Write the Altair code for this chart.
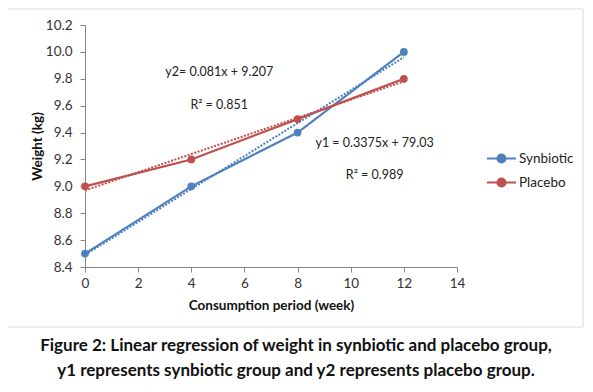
import altair as alt
import pandas as pd

weeks = [0, 4, 8, 12]
synbiotic = [8.5, 9.0, 9.4, 10.0]
placebo = [9.0, 9.2, 9.5, 9.8]
groups = ["Synbiotic", "Placebo"]
colors = ["#4F81BD", "#C0504D"]

ann_text = ["y2= 0.081x + 9.207", "R\u00b2 = 0.851", "y1 = 0.3375x + 79.03", "R\u00b2 = 0.989"]
ann_x = [5.05, 5.05, 10.9, 10.9]
ann_y = [9.85, 9.605, 9.32, 9.085]

caption = ["Figure 2: Linear regression of weight in synbiotic and placebo group,",
           "y1 represents synbiotic group and y2 represents placebo group."]

df = pd.DataFrame({
    "week": weeks * 2,
    "weight": synbiotic + placebo,
    "group": ["Synbiotic"] * 4 + ["Placebo"] * 4,
})
ann = pd.DataFrame({"t": ann_text, "week": ann_x, "weight": ann_y})

FONT = "Lato"
color_scale = alt.Scale(domain=groups, range=colors)

xenc = alt.X("week:Q", scale=alt.Scale(domain=[0, 14], nice=False),
             axis=alt.Axis(values=list(range(0, 15, 2)), title="Consumption period (week)",
                           grid=False, tickSize=5, labelPadding=4, titlePadding=9,
                           labelFlush=False, labelOverlap=False))
yenc = alt.Y("weight:Q", scale=alt.Scale(domain=[8.4, 10.2], nice=False, zero=False),
             axis=alt.Axis(values=[round(8.4 + 0.2 * i, 1) for i in range(10)], format=".1f",
                           title="Weight (kg)", grid=False, tickSize=5, labelPadding=8,
                           titlePadding=1, labelFlush=False, labelOverlap=False))

legend_path = "M-1,0H1M-0.28,0A0.28,0.28 0 1,0 0.28,0A0.28,0.28 0 1,0 -0.28,0Z"
cenc = alt.Color("group:N", scale=color_scale, sort=groups,
                 legend=alt.Legend(title=None, orient="none", legendX=401, legendY=118,
                                   symbolType=legend_path, symbolSize=841, rowPadding=-2,
                                   symbolStrokeWidth=2, labelOffset=2, padding=0,
                                   labelFontSize=13.5, labelFont=FONT, labelColor="#222"))

base = alt.Chart(df)
lines = base.mark_line(strokeWidth=2.2).encode(x=xenc, y=yenc, color=cenc)
points = base.mark_circle(size=60, opacity=1).encode(x=xenc, y=yenc, color=cenc)
trend = base.transform_regression("week", "weight", groupby=["group"], extent=[0, 12]).mark_line(
    strokeWidth=2, strokeDash=[2, 1.5]).encode(x=xenc, y=yenc, color=cenc)
texts = alt.Chart(ann).mark_text(font=FONT, fontSize=12.5, color="#222").encode(
    x=xenc, y=yenc, text="t:N")
frame = alt.Chart(alt.Data(values=[{}])).mark_rect(fill=None, stroke="#d9d9d9", strokeWidth=1).encode(
    x=alt.value(-78), x2=alt.value(498), y=alt.value(-16), y2=alt.value(302))

chart = alt.layer(lines, trend, points, texts, frame).properties(
    width=372, height=242,
    padding={"left": 77, "top": 17, "right": 128, "bottom": 115},
    autosize=alt.AutoSizeParams(type="none"),
    title=alt.TitleParams(caption, orient="bottom", anchor="middle", frame="group",
                          dx=25, offset=10, font=FONT, fontSize=17, fontWeight="bold",
                          color="#111", lineHeight=25),
).configure_view(stroke=None).configure_axis(
    domainColor="#868686", tickColor="#868686", labelFont=FONT, labelFontSize=13.5,
    labelColor="#333", titleFont=FONT, titleFontSize=13.5, titleFontWeight="bold",
    titleColor="#111",
)

chart.save("out.html", embed_options={"renderer": "svg", "actions": False})
